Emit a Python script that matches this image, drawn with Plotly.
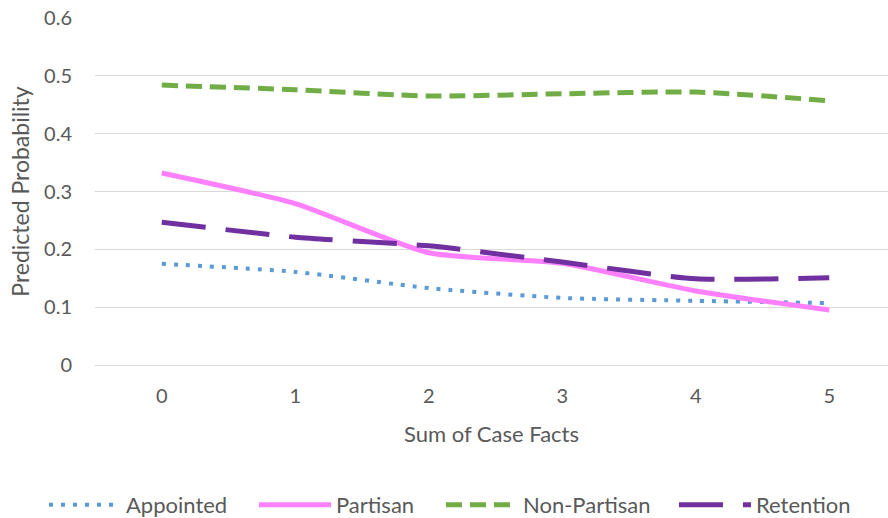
import plotly.graph_objects as go

x_vals = [0, 1, 2, 3, 4, 5]
appointed = [0.175, 0.161, 0.133, 0.116, 0.111, 0.107]
partisan = [0.332, 0.279, 0.194, 0.176, 0.128, 0.095]
non_partisan = [0.484, 0.476, 0.465, 0.469, 0.472, 0.457]
retention = [0.247, 0.221, 0.206, 0.178, 0.149, 0.151]

y_ticks = [0, 0.1, 0.2, 0.3, 0.4, 0.5, 0.6]
y_tick_text = ["0", "0.1", "0.2", "0.3", "0.4", "0.5", "0.6"]

FONT = "Lato"
GREY = "#595959"

fig = go.Figure()
series = [
    ("Appointed", appointed, "#5B9BD5", "4px,8px", 4, "legend", -0.0643),
    ("Partisan", partisan, "#FF80FF", "solid", 5, "legend2", 0.2005),
    ("Non-Partisan", non_partisan, "#70AD47", "16px,8px", 5, "legend3", 0.4363),
    ("Retention", retention, "#7030A0", "44px,20px", 5, "legend4", 0.7301),
]
legend_layouts = {}
for name, ys, color, dash, w, lg, lx in series:
    fig.add_trace(go.Scatter(
        x=x_vals, y=ys, name=name, mode="lines", legend=lg,
        line=dict(color=color, dash=dash, width=w, shape="spline", smoothing=0.6),
    ))
    legend_layouts[lg] = dict(
        orientation="h", x=lx, xanchor="left", xref="paper",
        y=0.025, yanchor="middle", yref="container",
        font=dict(family=FONT, size=22, color=GREY), itemwidth=72,
        bgcolor="rgba(0,0,0,0)",
    )

fig.update_layout(
    width=888, height=518,
    margin=dict(l=95, r=0, t=18, b=153),
    paper_bgcolor="white", plot_bgcolor="white",
    font=dict(family=FONT, size=20, color=GREY),
    showlegend=True,
    **legend_layouts,
)
fig.update_xaxes(
    range=[-0.5, 5.44], tickmode="array", tickvals=x_vals,
    ticktext=[str(v) for v in x_vals], showgrid=False, zeroline=False,
    showline=False, ticks="", tickfont=dict(size=20, color=GREY),
    ticklabelstandoff=17,
    title=dict(text="Sum of Case Facts", font=dict(size=22, color=GREY), standoff=20),
)
fig.update_yaxes(
    range=[0, 0.6], tickmode="array", tickvals=y_ticks, ticktext=y_tick_text,
    showgrid=True, gridcolor="#D9D9D9", gridwidth=1.3, zeroline=True,
    zerolinecolor="#D9D9D9", zerolinewidth=1.3, showline=False, ticks="",
    tickfont=dict(size=20, color=GREY), ticklabelstandoff=22,
    title=dict(text="Predicted Probability", font=dict(size=23, color=GREY), standoff=8),
)

fig.write_html("out.html")
